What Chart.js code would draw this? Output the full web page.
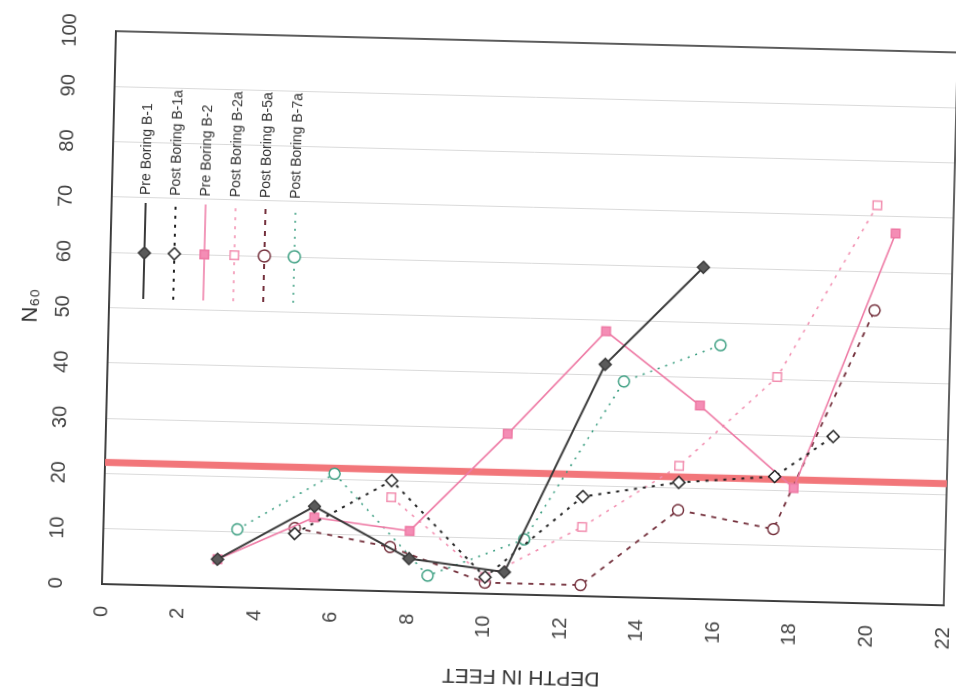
<!DOCTYPE html>
<html><head><meta charset="utf-8">
<script src="https://cdn.jsdelivr.net/npm/chart.js@4.4.1/dist/chart.umd.min.js"></script>
<style>
html,body{margin:0;padding:0;background:#fff;overflow:hidden;width:956px;height:697px;}
#skew{position:absolute;left:0;top:0;width:956px;height:697px;transform-origin:102px 584px;transform:rotate(1.45deg);}
#rot{position:absolute;left:0;top:0;width:697px;height:956px;transform-origin:0 0;transform:translateY(697px) rotate(-90deg);}
canvas{display:block}
</style></head><body>
<div id="skew"><div id="rot"><canvas id="c" width="697" height="956"></canvas></div></div>
<script>
// ---- data ----
const seriesNames = ['Pre Boring B-1','Post Boring B-1a','Pre Boring B-2','Post Boring B-2a','Post Boring B-5a','Post Boring B-7a'];
const depthB1  = [3, 5.5, 8, 10.5, 13, 15.5];
const nB1      = [5, 15, 6, 4, 42, 60];
const depthB1a = [5, 7.5, 10, 12.5, 15, 17.5, 19];
const nB1a     = [10, 20, 3, 18, 21, 22.5, 30];
const depthB2  = [3, 5.5, 8, 10.5, 13, 15.5, 18, 20.5];
const nB2      = [5, 13, 11, 29, 48, 35, 20.5, 67];
const depthB2a = [7.5, 10, 12.5, 15, 17.5, 20];
const nB2a     = [17, 3, 12.5, 24, 40.5, 72];
const depthB5a = [5, 7.5, 10, 12.5, 15, 17.5, 20];
const nB5a     = [11, 8, 2, 2, 16, 13, 53];
const depthB7a = [3.5, 6, 8.5, 11, 13.5, 16];
const nB7a     = [10.5, 21, 3, 10, 39, 46];
const criterionN = 22;
const criterionDepth = [0, 22];
const nTickValues = [0,10,20,30,40,50,60,70,80,90,100];
const depthTickValues = [0,2,4,6,8,10,12,14,16,18,20,22];
const nTitle = 'N\u2086\u2080';
const depthTitle = 'DEPTH IN FEET';

const pts = (d, n) => d.map((v, i) => ({x: n[i], y: v}));
const FONT = '"Liberation Sans", Arial, "DejaVu Sans", sans-serif';

const styles = [
  {color:'#3a3a3a', fill:'#5a5a5a', dash:[], style:'rectRot', width:2},
  {color:'#222222', fill:'#ffffff', dash:[3,6], style:'rectRot', width:2},
  {color:'#ee79a4', fill:'#f48db5', dash:[], style:'rect', width:1.6},
  {color:'#f28fb0', fill:'#ffffff', dash:[3,6], style:'rect', width:1.6},
  {color:'#74303c', fill:'#ffffff', dash:[5,6], style:'circle', width:1.8},
  {color:'#3a9e80', fill:'#ffffff', dash:[2,6], style:'circle', width:1.6}
];
const seriesData = [pts(depthB1,nB1), pts(depthB1a,nB1a), pts(depthB2,nB2), pts(depthB2a,nB2a), pts(depthB5a,nB5a), pts(depthB7a,nB7a)];

const datasets = seriesData.map((d, i) => ({
  label: seriesNames[i], data: d, showLine: true,
  borderColor: styles[i].color, borderWidth: styles[i].width, borderDash: styles[i].dash,
  pointStyle: styles[i].style, pointRadius: styles[i].style==='circle'?5.5:6,
  pointBackgroundColor: styles[i].fill, pointBorderColor: styles[i].color, pointBorderWidth: 1.5,
  tension: 0, order: i
}));
datasets.push({
  label: 'criterion', data: criterionDepth.map(v => ({x: criterionN, y: v})), showLine: true,
  borderColor: '#f2767a', borderWidth: 7, pointRadius: 0, order: 99
});

function drawMarker(ctx, st, x, y, r){
  ctx.save();
  ctx.setLineDash([]);
  ctx.fillStyle = st.fill; ctx.strokeStyle = st.color; ctx.lineWidth = 1.5;
  ctx.beginPath();
  if (st.style === 'circle') ctx.arc(x, y, r, 0, Math.PI*2);
  else if (st.style === 'rect') { const s = r*Math.SQRT1_2; ctx.rect(x-s, y-s, 2*s, 2*s); }
  else { ctx.moveTo(x, y-r); ctx.lineTo(x+r, y); ctx.lineTo(x, y+r); ctx.lineTo(x-r, y); ctx.closePath(); }
  ctx.fill(); ctx.stroke();
  ctx.restore();
}

const framePlugin = {
  id: 'frame',
  beforeDatasetsDraw(chart){
    const {ctx, chartArea:a} = chart;
    ctx.save(); ctx.strokeStyle = '#3a3a3a'; ctx.lineWidth = 1.6;
    ctx.strokeRect(a.left, a.top, a.right-a.left, a.bottom-a.top);
    ctx.restore();
  }
};

const legendPlugin = {
  id: 'insideLegend',
  afterDatasetsDraw(chart){
    const ctx = chart.ctx;
    const a = chart.chartArea;
    const xs = a.left + 286, xe = a.left + 382, xm = a.left + 332, xt = a.left + 390;
    const y0 = 136, dy = 30;
    seriesNames.forEach((name, i) => {
      const st = styles[i];
      const y = y0 + i*dy;
      ctx.save();
      ctx.strokeStyle = st.color; ctx.lineWidth = st.width; ctx.setLineDash(st.dash);
      ctx.beginPath(); ctx.moveTo(xs, y); ctx.lineTo(xe, y); ctx.stroke();
      ctx.restore();
      drawMarker(ctx, st, xm, y, 6);
      ctx.save();
      ctx.fillStyle = '#333'; ctx.font = '14px ' + FONT;
      ctx.textBaseline = 'middle'; ctx.textAlign = 'left';
      ctx.fillText(name, xt, y);
      ctx.restore();
    });
  }
};

new Chart(document.getElementById('c'), {
  type: 'scatter',
  data: { datasets },
  options: {
    responsive: false, animation: false,
    layout: { padding: { left: 0, right: 31, top: 0, bottom: 12 } },
    plugins: { legend: { display: false }, tooltip: { enabled: false } },
    scales: {
      x: {
        type: 'linear', position: 'top', min: 0, max: 100,
        afterBuildTicks: s => { s.ticks = nTickValues.map(v => ({value: v})); },
        afterFit: s => { s.height = 102; s.paddingLeft = 0; s.paddingRight = 0; },
        ticks: { padding: 34, color: '#444', font: { family: FONT, size: 20 } },
        grid: { color: '#dadada', lineWidth: 1, drawTicks: false },
        border: { display: true, color: '#3a3a3a', width: 1.6 },
        title: { display: true, text: nTitle, color: '#333', font: { family: FONT, size: 22 }, padding: { top: 11, bottom: 0 } }
      },
      y: {
        type: 'linear', position: 'left', reverse: true, min: 0, max: 22,
        afterBuildTicks: s => { s.ticks = depthTickValues.map(v => ({value: v})); },
        afterFit: s => { s.width = 113; s.paddingTop = 0; s.paddingBottom = 0; },
        ticks: { padding: 22, color: '#444', font: { family: FONT, size: 20 } },
        grid: { display: false, drawTicks: false },
        border: { display: true, color: '#3a3a3a', width: 1.6 },
        title: { display: true, text: depthTitle, color: '#333', font: { family: FONT, size: 21 }, padding: { top: 19, bottom: 0 } }
      }
    }
  },
  plugins: [framePlugin, legendPlugin]
});
</script>
</body></html>
